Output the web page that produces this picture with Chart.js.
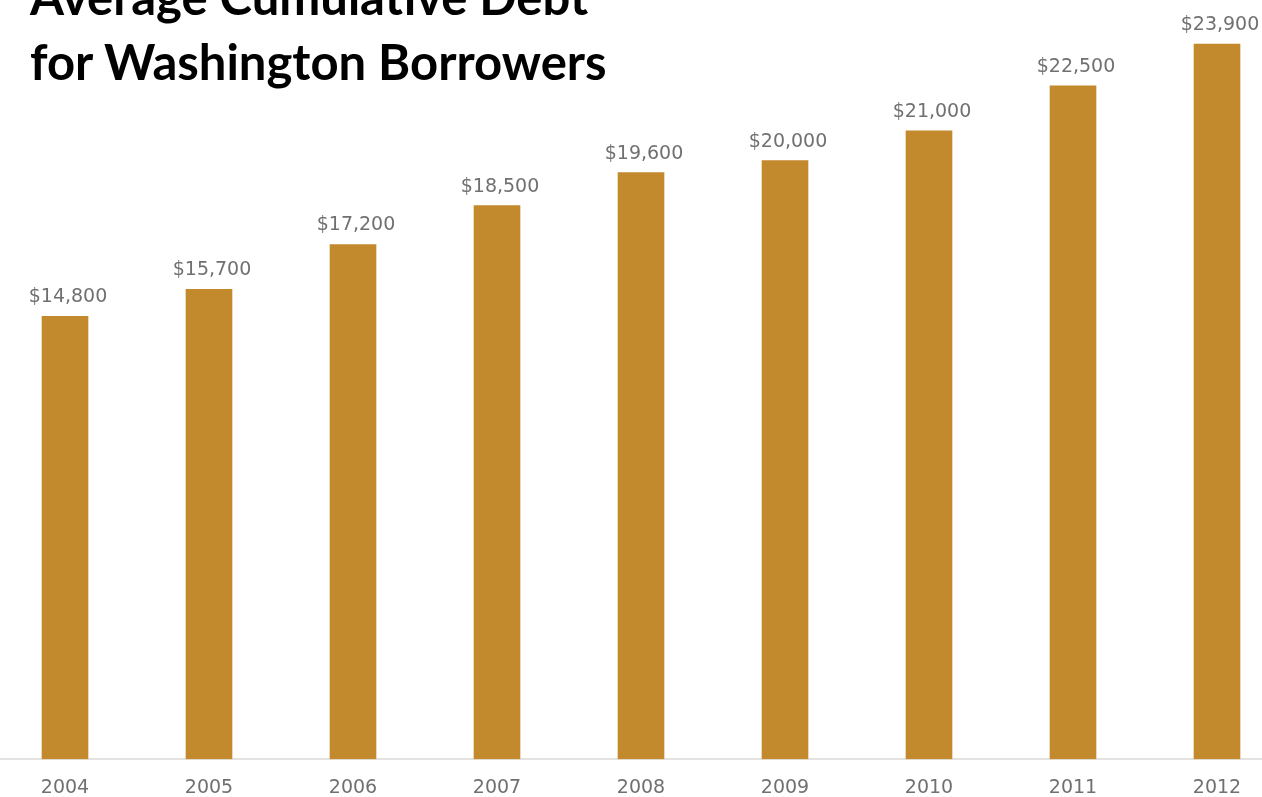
<!DOCTYPE html>
<html>
<head>
<meta charset="utf-8">
<script src="https://cdn.jsdelivr.net/npm/chart.js@4/dist/chart.umd.min.js"></script>
<style>
  html, body { margin: 0; padding: 0; background: #fff; overflow: hidden; }
  body { width: 1262px; height: 797px; position: relative; }
  #wrap { position: absolute; left: -7px; top: 0; width: 1296px; height: 816px; }
  #title {
    position: absolute; left: 30px; top: -36px;
    font-family: Lato, sans-serif; font-weight: 700; font-size: 49px;
    line-height: 65px; color: #000; white-space: nowrap;
  }
</style>
</head>
<body>
<div id="wrap"><canvas id="chart"></canvas></div>
<div id="title">Average Cumulative Debt<br>for Washington Borrowers</div>
<script>
const years = ['2004', '2005', '2006', '2007', '2008', '2009', '2010', '2011', '2012'];
const avgDebt = [14800, 15700, 17200, 18500, 19600, 20000, 21000, 22500, 23900];

const barColor = '#c3892d';
const labelColor = '#707070';
const labelFont = '"DejaVu Sans", sans-serif';

// draws the $ value above each bar
const valueLabels = {
    id: 'valueLabels',
    afterDatasetsDraw(chart) {
        const ctx = chart.ctx;
        const meta = chart.getDatasetMeta(0);
        ctx.save();
        ctx.font = '19px ' + labelFont;
        ctx.fillStyle = labelColor;
        ctx.textAlign = 'center';
        ctx.textBaseline = 'alphabetic';
        meta.data.forEach((bar, i) => {
            ctx.fillText('$' + avgDebt[i].toLocaleString('en-US'), bar.x + 3, bar.y - 14);
        });
        ctx.restore();
    }
};

const ctx = document.getElementById('chart').getContext('2d');
new Chart(ctx, {
    type: 'bar',
    data: {
        labels: years,
        datasets: [
            {
                label: 'Average Cumulative Debt',
                data: avgDebt,
                backgroundColor: barColor,
                barThickness: 46,
            },
        ],
    },
    options: {
        responsive: true,
        maintainAspectRatio: false,
        animation: false,
        layout: { padding: 0 },
        plugins: {
            legend: { display: false },
            tooltip: { enabled: false },
        },
        scales: {
            x: {
                grid: { display: false, drawTicks: false },
                border: { display: true, color: '#e3e3e3', width: 2 },
                ticks: {
                    color: labelColor,
                    padding: 17,
                    font: { family: labelFont, size: 19 },
                },
            },
            y: {
                display: false,
                min: 0,
                max: 25370,
            },
        },
    },
    plugins: [valueLabels],
});
</script>
</body>
</html>
